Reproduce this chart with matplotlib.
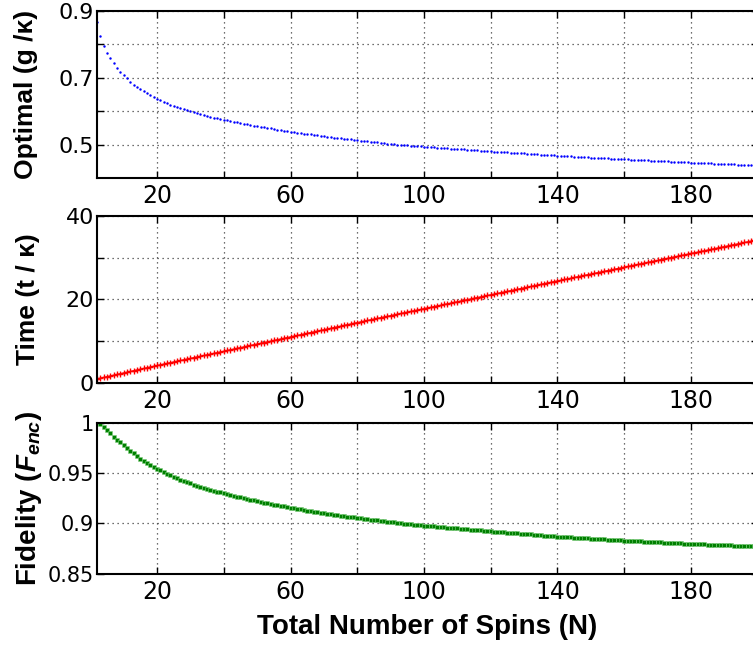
import numpy as np
import matplotlib
matplotlib.use("Agg")
import matplotlib.pyplot as plt
from matplotlib.ticker import FixedLocator, FuncFormatter

# total number of spins N = 2 ... 200
N = np.arange(2, 201)

# optimal coupling g / kappa
opt_g = [
    0.868, 0.825, 0.795, 0.775, 0.758, 0.743, 0.730, 0.718, 0.708, 0.698,
    0.688, 0.679, 0.671, 0.665, 0.659, 0.653, 0.648, 0.643, 0.638, 0.634,
    0.629, 0.625, 0.620, 0.616, 0.613, 0.609, 0.606, 0.603, 0.600, 0.597,
    0.594, 0.591, 0.588, 0.586, 0.583, 0.581, 0.579, 0.577, 0.575, 0.573,
    0.571, 0.569, 0.567, 0.565, 0.563, 0.561, 0.559, 0.557, 0.555, 0.553,
    0.552, 0.550, 0.549, 0.547, 0.545, 0.544, 0.542, 0.541, 0.539, 0.538,
    0.536, 0.535, 0.533, 0.532, 0.531, 0.529, 0.528, 0.526, 0.525, 0.524,
    0.523, 0.521, 0.520, 0.519, 0.518, 0.517, 0.516, 0.514, 0.513, 0.512,
    0.511, 0.510, 0.509, 0.508, 0.507, 0.506, 0.504, 0.503, 0.502, 0.501,
    0.500, 0.500, 0.499, 0.498, 0.497, 0.496, 0.496, 0.495, 0.494, 0.493,
    0.493, 0.492, 0.491, 0.491, 0.490, 0.489, 0.488, 0.488, 0.487, 0.486,
    0.486, 0.485, 0.484, 0.484, 0.483, 0.482, 0.481, 0.481, 0.480, 0.479,
    0.479, 0.478, 0.477, 0.477, 0.476, 0.475, 0.475, 0.474, 0.474, 0.473,
    0.472, 0.472, 0.471, 0.470, 0.470, 0.469, 0.468, 0.468, 0.467, 0.466,
    0.466, 0.465, 0.465, 0.464, 0.464, 0.463, 0.463, 0.462, 0.461, 0.461,
    0.460, 0.460, 0.459, 0.459, 0.458, 0.458, 0.457, 0.457, 0.456, 0.456,
    0.455, 0.455, 0.454, 0.454, 0.453, 0.453, 0.452, 0.452, 0.451, 0.451,
    0.450, 0.450, 0.449, 0.449, 0.448, 0.448, 0.447, 0.447, 0.446, 0.446,
    0.445, 0.445, 0.444, 0.444, 0.444, 0.443, 0.443, 0.442, 0.442, 0.441,
    0.441, 0.441, 0.440, 0.440, 0.439, 0.439, 0.438, 0.438, 0.437,
]

# time t / kappa
time_t = [
    1.00, 1.18, 1.36, 1.53, 1.71, 1.89, 2.07, 2.25, 2.42, 2.60,
    2.78, 2.96, 3.14, 3.31, 3.49, 3.67, 3.85, 4.02, 4.20, 4.37,
    4.54, 4.71, 4.88, 5.06, 5.23, 5.40, 5.57, 5.74, 5.91, 6.08,
    6.25, 6.42, 6.59, 6.77, 6.94, 7.11, 7.28, 7.45, 7.62, 7.79,
    7.96, 8.13, 8.30, 8.48, 8.65, 8.82, 8.99, 9.16, 9.33, 9.50,
    9.67, 9.84, 10.01, 10.19, 10.36, 10.53, 10.70, 10.87, 11.04, 11.21,
    11.38, 11.55, 11.72, 11.90, 12.07, 12.24, 12.41, 12.58, 12.75, 12.92,
    13.09, 13.26, 13.43, 13.61, 13.78, 13.95, 14.12, 14.29, 14.46, 14.63,
    14.79, 14.96, 15.12, 15.29, 15.46, 15.62, 15.79, 15.95, 16.12, 16.29,
    16.45, 16.62, 16.78, 16.95, 17.12, 17.28, 17.45, 17.61, 17.78, 17.95,
    18.11, 18.28, 18.44, 18.61, 18.78, 18.94, 19.11, 19.27, 19.44, 19.61,
    19.77, 19.94, 20.10, 20.27, 20.44, 20.60, 20.77, 20.93, 21.10, 21.27,
    21.43, 21.60, 21.76, 21.93, 22.10, 22.26, 22.43, 22.59, 22.76, 22.93,
    23.09, 23.26, 23.42, 23.59, 23.76, 23.92, 24.09, 24.25, 24.42, 24.58,
    24.75, 24.91, 25.08, 25.24, 25.40, 25.57, 25.73, 25.90, 26.06, 26.22,
    26.39, 26.55, 26.72, 26.88, 27.04, 27.21, 27.37, 27.54, 27.70, 27.86,
    28.03, 28.19, 28.36, 28.52, 28.68, 28.85, 29.01, 29.18, 29.34, 29.50,
    29.67, 29.83, 30.00, 30.16, 30.32, 30.49, 30.65, 30.82, 30.98, 31.14,
    31.31, 31.47, 31.64, 31.80, 31.96, 32.13, 32.29, 32.46, 32.62, 32.78,
    32.95, 33.11, 33.28, 33.44, 33.60, 33.77, 33.93, 34.10, 34.26,
]

# fidelity F_enc
fidelity = [
    1.0000, 0.9995, 0.9965, 0.9935, 0.9900, 0.9865, 0.9835, 0.9807, 0.9780, 0.9752,
    0.9724, 0.9697, 0.9671, 0.9645, 0.9624, 0.9603, 0.9583, 0.9564, 0.9545, 0.9528,
    0.9512, 0.9496, 0.9480, 0.9465, 0.9451, 0.9437, 0.9424, 0.9411, 0.9398, 0.9387,
    0.9376, 0.9366, 0.9355, 0.9345, 0.9336, 0.9327, 0.9318, 0.9309, 0.9300, 0.9292,
    0.9283, 0.9275, 0.9267, 0.9259, 0.9252, 0.9244, 0.9237, 0.9229, 0.9222, 0.9215,
    0.9208, 0.9202, 0.9195, 0.9188, 0.9182, 0.9176, 0.9169, 0.9163, 0.9157, 0.9151,
    0.9145, 0.9140, 0.9134, 0.9128, 0.9123, 0.9118, 0.9112, 0.9107, 0.9102, 0.9097,
    0.9093, 0.9088, 0.9083, 0.9079, 0.9074, 0.9069, 0.9064, 0.9060, 0.9055, 0.9051,
    0.9047, 0.9042, 0.9038, 0.9034, 0.9030, 0.9026, 0.9021, 0.9017, 0.9013, 0.9010,
    0.9006, 0.9003, 0.8999, 0.8996, 0.8992, 0.8989, 0.8985, 0.8982, 0.8978, 0.8975,
    0.8972, 0.8970, 0.8967, 0.8964, 0.8961, 0.8958, 0.8956, 0.8953, 0.8950, 0.8947,
    0.8944, 0.8942, 0.8939, 0.8936, 0.8933, 0.8930, 0.8928, 0.8925, 0.8922, 0.8919,
    0.8917, 0.8914, 0.8912, 0.8909, 0.8906, 0.8904, 0.8901, 0.8899, 0.8896, 0.8893,
    0.8891, 0.8888, 0.8886, 0.8883, 0.8880, 0.8878, 0.8875, 0.8873, 0.8870, 0.8868,
    0.8866, 0.8864, 0.8862, 0.8860, 0.8858, 0.8856, 0.8854, 0.8852, 0.8850, 0.8848,
    0.8846, 0.8844, 0.8842, 0.8840, 0.8838, 0.8836, 0.8834, 0.8832, 0.8830, 0.8828,
    0.8827, 0.8825, 0.8823, 0.8822, 0.8820, 0.8818, 0.8817, 0.8815, 0.8813, 0.8812,
    0.8810, 0.8808, 0.8807, 0.8805, 0.8804, 0.8802, 0.8800, 0.8799, 0.8797, 0.8796,
    0.8794, 0.8793, 0.8792, 0.8790, 0.8789, 0.8788, 0.8786, 0.8785, 0.8784, 0.8782,
    0.8781, 0.8780, 0.8778, 0.8777, 0.8776, 0.8774, 0.8773, 0.8772, 0.8770,
]

x_grid = [20, 40, 60, 80, 100, 120, 140, 160, 180]
x_labeled = [20, 60, 100, 140, 180]

panels = [
    # ylim, y grid ticks, labelled y ticks, ylabel
    ((0.4, 0.9), [0.5, 0.6, 0.7, 0.8, 0.9], [0.5, 0.7, 0.9], "Optimal (g /\u03ba)"),
    ((0, 40), [0, 10, 20, 30, 40], [0, 20, 40], "Time (t / \u03ba)"),
    ((0.85, 1.0), [0.85, 0.9, 0.95, 1.0], [0.85, 0.9, 0.95, 1.0],
     r"Fidelity ($\mathbfit{F}_{\mathbfit{enc}}$)"),
]
label_size = [19, 19, 20]

plt.rcParams["mathtext.fontset"] = "custom"
plt.rcParams["mathtext.bfit"] = "Liberation Sans:bold:italic"
plt.rcParams["mathtext.rm"] = "Liberation Sans:bold"

fig = plt.figure(figsize=(7.53, 6.48), dpi=100)
left, width = 97 / 753, (757.7 - 97) / 753
boxes = [(11, 178), (215.7, 383), (423, 573.7)]
label_x = [-0.089, -0.086, -0.080]
axes = []
for (top, bot) in boxes:
    axes.append(fig.add_axes([left, 1 - bot / 648, width, (bot - top) / 648]))


def make_fmt(shown):
    def f(v, pos):
        if any(abs(v - s) < 1e-9 for s in shown):
            return "%g" % v
        return ""
    return f


for i, ax in enumerate(axes):
    ylim, yt, yshown, ylab = panels[i]
    ax.set_xlim(2, 200)
    ax.set_ylim(*ylim)
    ax.xaxis.set_major_locator(FixedLocator(x_grid))
    ax.xaxis.set_major_formatter(FuncFormatter(make_fmt(x_labeled)))
    ax.yaxis.set_major_locator(FixedLocator(yt))
    ax.yaxis.set_major_formatter(FuncFormatter(make_fmt(yshown)))
    ax.tick_params(direction="in", top=True, right=True, length=5, width=1,
                   labelsize=16)
    ax.tick_params(axis="x", labelsize=17, pad=4.5)
    ax.tick_params(axis="y", pad=2)
    ax.grid(True, color="0.25", linestyle=(0, (1, 3)), linewidth=0.9)
    for sp in ax.spines.values():
        sp.set_linewidth(1.5)
    ax.set_ylabel(ylab, fontsize=label_size[i], fontweight="bold",
                  family="Liberation Sans")
    ax.yaxis.set_label_coords(label_x[i], 0.5)

axes[2].tick_params(axis="y", labelsize=15)

axes[0].plot(N, opt_g, linestyle="none", marker=".", color="b",
             markersize=3.5, markeredgewidth=0)
axes[1].plot(N, time_t, "r-", linewidth=0.8, marker="+", markersize=5,
             markeredgewidth=1)
axes[2].plot(N, fidelity, linestyle="none", marker="s", color="green",
             markersize=2.2, markeredgewidth=0.4, markeredgecolor="#7fcf7f")

axes[2].set_xlabel("Total Number of Spins (N)", fontsize=20, fontweight="bold",
                   family="Liberation Sans")
axes[2].xaxis.set_label_coords(0.5, -0.27)

fig.savefig("out.png", dpi=100)
